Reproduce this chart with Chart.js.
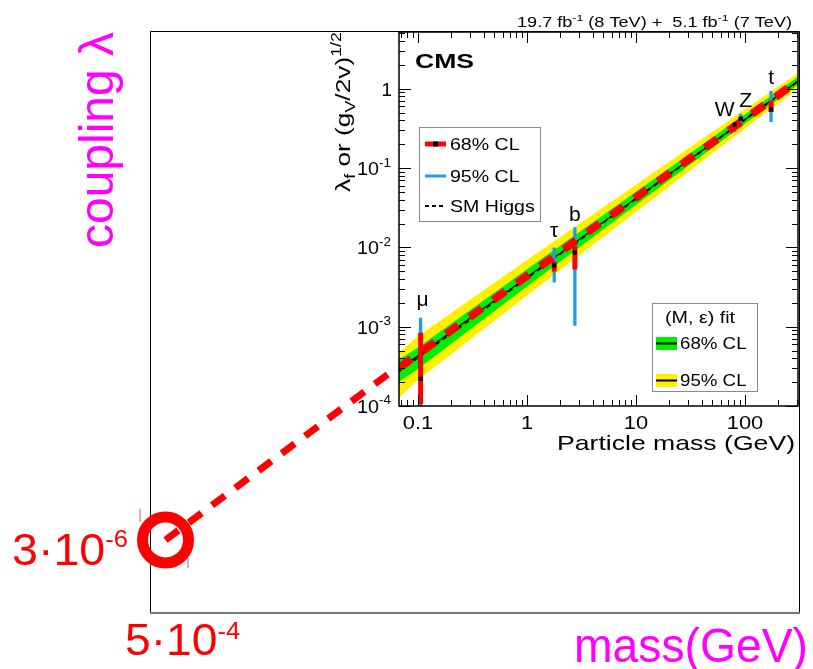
<!DOCTYPE html>
<html>
<head>
<meta charset="utf-8">
<script src="https://cdn.jsdelivr.net/npm/chart.js@4.4.1/dist/chart.umd.min.js"></script>
<style>
  html, body { margin: 0; padding: 0; background: #fff; }
  #wrap { position: relative; width: 813px; height: 669px; }
  #wrap canvas { position: absolute; left: 0; top: 0; }
</style>
</head>
<body>
<div id="wrap">
  <canvas id="outer" width="813" height="669"></canvas>
  <canvas id="inset" width="813" height="669"></canvas>
</div>
<script>
// (M, eps) fit bands
const bandMass = [0.067, 0.1, 1, 10, 100, 306];
const band95Hi = [4.69e-4, 7.56e-4, 6.93e-3, 6.18e-2, 0.550, 1.571];
const band95Lo = [1.26e-4, 2.12e-4, 2.47e-3, 2.80e-2, 0.316, 1.015];
const band68Hi = [3.82e-4, 5.47e-4, 5.31e-3, 5.04e-2, 0.477, 1.419];
const band68Lo = [2.01e-4, 2.93e-4, 3.22e-3, 3.43e-2, 0.365, 1.124];
const fitCentre = [2.9e-4, 4.3e-4, 4.2e-3, 4.15e-2, 0.41, 1.25];
const smHiggs = [2.75e-4, 4.1e-4, 4.1e-3, 4.1e-2, 0.41, 1.24];

// measured couplings
const particles = ['μ', 'τ', 'b', 'W', 'Z', 't'];
const particleMass = [0.1057, 1.777, 2.75, 80.4, 91.2, 173.2];
const coupling = [2.2e-4, 5.9e-3, 8.6e-3, 0.353, 0.42, 0.55];
const cl68Lo = [1.05e-4, 4.97e-3, 5.27e-3, 0.34, 0.41, 0.51];
const cl68Hi = [8.4e-4, 6.65e-3, 1.03e-2, 0.365, 0.435, 0.71];
const cl95Lo = [2e-5, 3.6e-3, 1.03e-3, 0.286, 0.36, 0.38];
const cl95Hi = [1.3e-3, 1.0e-2, 1.79e-2, 0.382, 0.483, 0.935];

// red extrapolation drawn over the plot
const extrapMass = [5e-4, 0.067, 306];
const extrapCoupling = [3e-6, 3.03e-4, 1.26];
const markTickMass = [2.92e-4, 2.92e-4, null, 8.05e-4, 8.05e-4];
const markTickCoupling = [6.9e-6, 4.85e-6, null, 1.85e-6, 1.42e-6];

// axes
const insetXRange = [0.067, 306];
const insetYRange = [1e-4, 5.2];
const outerXRange = [3.6e-4, 330];
const outerYRange = [4.37e-7, 2.45];
const insetXTicks = [0.1, 1, 10, 100];
const insetXLabels = ['0.1', '1', '10', '100'];
const insetYTicks = [1e-4, 1e-3, 1e-2, 1e-1, 1];
const insetYLabels = [['10', '-4'], ['10', '-3'], ['10', '-2'], ['10', '-1'], ['1', '']];

const FONT = '"Liberation Sans", Arial, Helvetica, sans-serif';
const RED = '#ff0000';
const MAGENTA = '#ff00ff';
const BLUE = '#1f9cf0';
const GREEN = '#00ee00';
const YELLOW = '#fff000';

const pts = (xs, ys) => xs.map((x, i) => ({ x: x, y: ys[i] }));

// draw text made of runs: [text, 0 normal | 1 sup | -1 sub]
function drawRuns(ctx, runs, x, y, size, o = {}) {
  const weight = o.bold ? 'bold ' : '';
  const supScale = o.supScale || 0.68;
  const parts = runs.map(r => {
    const kind = r[1] || 0;
    const s = kind ? size * supScale : size;
    ctx.font = weight + s + 'px ' + FONT;
    return { t: r[0], s: s, kind: kind, w: ctx.measureText(r[0]).width };
  });
  const total = parts.reduce((a, p) => a + p.w, 0);
  const k = o.width ? o.width / total : (o.scale || 1);
  const align = o.align || 'left';
  const start = align === 'right' ? -total * k : align === 'center' ? -total * k / 2 : 0;
  ctx.save();
  ctx.translate(x, y);
  if (o.rotate) ctx.rotate(o.rotate);
  ctx.translate(start, 0);
  ctx.scale(k, 1);
  ctx.fillStyle = o.color || '#000';
  ctx.textAlign = 'left';
  ctx.textBaseline = 'alphabetic';
  let cx = 0;
  parts.forEach(p => {
    ctx.font = weight + p.s + 'px ' + FONT;
    const dy = p.kind > 0 ? -size * (o.supRise || 0.42) : p.kind < 0 ? size * 0.24 : 0;
    ctx.fillText(p.t, cx, dy);
    cx += p.w;
  });
  ctx.restore();
}

function minorTicks(range) {
  const out = [];
  for (let e = -5; e <= 3; e++) {
    for (let m = 2; m <= 9; m++) {
      const v = m * Math.pow(10, e);
      if (v > range[0] && v < range[1]) out.push(v);
    }
  }
  return out;
}

// ---------- outer chart ----------
const outerDecor = {
  id: 'outerDecor',
  beforeDatasetsDraw(chart) {
    const { ctx, chartArea: a } = chart;
    ctx.save();
    ctx.lineWidth = 1;
    ctx.strokeStyle = '#000';
    ctx.beginPath();
    ctx.moveTo(a.left + 0.5, a.bottom);
    ctx.lineTo(a.left + 0.5, a.top + 0.5);
    ctx.lineTo(a.right + 0.5, a.top + 0.5);
    ctx.lineTo(a.right + 0.5, a.bottom);
    ctx.stroke();
    ctx.strokeStyle = '#777';
    ctx.lineWidth = 2;
    ctx.beginPath();
    ctx.moveTo(a.left, a.bottom + 1);
    ctx.lineTo(a.right + 1, a.bottom + 1);
    ctx.stroke();
    ctx.restore();
  },
  afterDraw(chart) {
    const { ctx, chartArea: a, scales: { x, y } } = chart;
    const py = y.getPixelForValue(extrapCoupling[0]);
    const px = x.getPixelForValue(extrapMass[0]);
    drawRuns(ctx, [['3·10'], ['-6', 1]], a.left - 22, py + 25, 44,
      { align: 'right', width: 116, color: RED, supScale: 0.55, supRise: 0.4 });
    drawRuns(ctx, [['5·10'], ['-4', 1]], px + 17, a.bottom + 43, 44,
      { align: 'center', width: 115, color: RED, supScale: 0.55, supRise: 0.36 });
    drawRuns(ctx, [['mass(GeV)']], 808, 662, 48, { align: 'right', width: 234, color: MAGENTA });
    drawRuns(ctx, [['coupling λ']], 113, 140, 48,
      { align: 'center', width: 216, color: MAGENTA, rotate: -Math.PI / 2 });
  }
};

new Chart(document.getElementById('outer'), {
  type: 'line',
  data: {
    datasets: [
      {
        data: pts(extrapMass.slice(0, 2), extrapCoupling.slice(0, 2)),
        borderColor: RED, borderWidth: 7, borderDash: [16, 13],
        pointRadius: 0, fill: false, tension: 0
      },
      {
        data: pts(extrapMass.slice(0, 1), extrapCoupling.slice(0, 1)),
        showLine: false, pointRadius: 23, pointBorderWidth: 11,
        pointBorderColor: RED, pointBackgroundColor: 'rgba(0,0,0,0)', clip: false
      },
      {
        data: pts(markTickMass, markTickCoupling),
        borderColor: '#ff8a8a', borderWidth: 1.5, pointRadius: 0, clip: false
      }
    ]
  },
  options: {
    animation: false, responsive: false, devicePixelRatio: 1,
    layout: { autoPadding: false, padding: { left: 150, top: 31, right: 14, bottom: 57 } },
    scales: {
      x: { type: 'logarithmic', min: outerXRange[0], max: outerXRange[1], display: false },
      y: { type: 'logarithmic', min: outerYRange[0], max: outerYRange[1], display: false }
    },
    plugins: { legend: { display: false }, tooltip: { enabled: false } }
  },
  plugins: [outerDecor]
});

// ---------- inset chart ----------
function barPoints(lo, hi) {
  const out = [];
  particleMass.forEach((m, i) => {
    out.push({ x: m, y: lo[i] }, { x: m, y: hi[i] }, { x: m, y: null });
  });
  return out;
}

const insetDecor = {
  id: 'insetDecor',
  afterDraw(chart) {
    const { ctx, chartArea: a, scales: { x, y } } = chart;
    ctx.save();
    // ticks on all four sides, pointing inwards
    ctx.strokeStyle = '#000';
    ctx.lineWidth = 1;
    ctx.beginPath();
    const xt = (v, len) => {
      const p = Math.round(x.getPixelForValue(v)) + 0.5;
      ctx.moveTo(p, a.bottom); ctx.lineTo(p, a.bottom - len);
      ctx.moveTo(p, a.top); ctx.lineTo(p, a.top + len);
    };
    const yt = (v, len) => {
      const p = Math.round(y.getPixelForValue(v)) + 0.5;
      ctx.moveTo(a.left, p); ctx.lineTo(a.left + len, p);
      ctx.moveTo(a.right, p); ctx.lineTo(a.right - len, p);
    };
    insetXTicks.forEach(v => xt(v, 11));
    minorTicks(insetXRange).forEach(v => xt(v, 6));
    insetYTicks.forEach(v => yt(v, 12));
    minorTicks(insetYRange).forEach(v => yt(v, 6));
    ctx.stroke();
    ctx.lineWidth = 1.5;
    ctx.strokeRect(a.left, a.top, a.right - a.left, a.bottom - a.top);
    ctx.restore();

    // tick labels
    insetXTicks.forEach((v, i) => {
      drawRuns(ctx, [[insetXLabels[i]]], x.getPixelForValue(v), a.bottom + 23, 19,
        { align: 'center', scale: 1.15 });
    });
    insetYTicks.forEach((v, i) => {
      const p = y.getPixelForValue(v);
      const l = insetYLabels[i];
      if (l[1]) drawRuns(ctx, [[l[0]], [l[1], 1]], a.left - 42, p + 7, 19, { supScale: 0.68, supRise: 0.45, scale: 1.04 });
      else drawRuns(ctx, [[l[0]]], a.left - 7, p + 7, 19, { align: 'right' });
    });

    // axis titles
    drawRuns(ctx, [['Particle mass (GeV)']], a.right - 3, a.bottom + 44, 21, { align: 'right', width: 238 });
    drawRuns(ctx, [['λ'], ['f', -1], [' or (g'], ['V', -1], ['/2v)'], ['1/2', 1]], a.left - 49, 112, 21,
      { align: 'center', width: 160, rotate: -Math.PI / 2 });

    // header texts
    drawRuns(ctx, [['19.7 fb'], ['-1', 1], [' (8 TeV) +  5.1 fb'], ['-1', 1], [' (7 TeV)']], 792, 27, 14,
      { align: 'right', width: 275 });
    drawRuns(ctx, [['CMS']], a.left + 16, 68, 21, { bold: true, width: 59 });

    // particle labels
    const shift = [[2, -12], [0, -10], [0, -6], [-10, -6], [5, -7], [0, -7]];
    particles.forEach((name, i) => {
      drawRuns(ctx, [[name]], x.getPixelForValue(particleMass[i]) + shift[i][0],
        y.getPixelForValue(cl95Hi[i]) + shift[i][1], 21, { align: 'center' });
    });

    // legend: measurements
    ctx.save();
    ctx.fillStyle = '#fff';
    ctx.strokeStyle = '#8a8a8a';
    ctx.lineWidth = 1;
    ctx.fillRect(419.5, 127.5, 121, 94);
    ctx.strokeRect(419.5, 127.5, 121, 94);
    ctx.lineCap = 'butt';
    ctx.strokeStyle = RED; ctx.lineWidth = 5;
    ctx.beginPath(); ctx.moveTo(425, 144); ctx.lineTo(446, 144); ctx.stroke();
    ctx.fillStyle = '#000'; ctx.fillRect(433, 141.5, 5, 5);
    ctx.strokeStyle = BLUE; ctx.lineWidth = 3;
    ctx.beginPath(); ctx.moveTo(425, 176); ctx.lineTo(446, 176); ctx.stroke();
    ctx.strokeStyle = '#000'; ctx.lineWidth = 2; ctx.setLineDash([4, 3]);
    ctx.beginPath(); ctx.moveTo(425, 206); ctx.lineTo(446, 206); ctx.stroke();
    ctx.setLineDash([]);
    ctx.restore();
    drawRuns(ctx, [['68% CL']], 450, 150, 17, { scale: 1.15 });
    drawRuns(ctx, [['95% CL']], 450, 182, 17, { scale: 1.15 });
    drawRuns(ctx, [['SM Higgs']], 450, 212, 17, { scale: 1.15 });

    // legend: fit
    ctx.save();
    ctx.fillStyle = '#fff';
    ctx.strokeStyle = '#8a8a8a';
    ctx.lineWidth = 1;
    ctx.fillRect(652.5, 303.5, 105, 88);
    ctx.strokeRect(652.5, 303.5, 105, 88);
    ctx.fillStyle = GREEN; ctx.fillRect(656, 337, 21, 13);
    ctx.fillStyle = YELLOW; ctx.fillRect(656, 374, 21, 13);
    ctx.strokeStyle = '#000'; ctx.lineWidth = 2;
    ctx.beginPath();
    ctx.moveTo(656, 343.5); ctx.lineTo(677, 343.5);
    ctx.moveTo(656, 380.5); ctx.lineTo(677, 380.5);
    ctx.stroke();
    ctx.restore();
    drawRuns(ctx, [['(M, ε) fit']], 665, 323, 17, { width: 70 });
    drawRuns(ctx, [['68% CL']], 680, 349, 17, { scale: 1.1 });
    drawRuns(ctx, [['95% CL']], 680, 386, 17, { scale: 1.1 });
  }
};

new Chart(document.getElementById('inset'), {
  type: 'line',
  data: {
    datasets: [
      { data: pts(bandMass, band95Hi), borderWidth: 0, pointRadius: 0, backgroundColor: YELLOW, fill: '+1', order: 10 },
      { data: pts(bandMass, band95Lo), borderWidth: 0, pointRadius: 0, fill: false, order: 10 },
      { data: pts(bandMass, band68Hi), borderWidth: 0, pointRadius: 0, backgroundColor: GREEN, fill: '+1', order: 9 },
      { data: pts(bandMass, band68Lo), borderWidth: 0, pointRadius: 0, fill: false, order: 9 },
      { data: pts(bandMass, fitCentre), borderColor: '#000', borderWidth: 1.2, pointRadius: 0, order: 8 },
      { data: pts(bandMass, smHiggs), borderColor: '#000', borderWidth: 2, borderDash: [5, 4], pointRadius: 0, order: 7 },
      { data: barPoints(cl95Lo, cl95Hi), borderColor: BLUE, borderWidth: 3.3, pointRadius: 0, order: 6 },
      { data: barPoints(cl68Lo, cl68Hi), borderColor: RED, borderWidth: 5, pointRadius: 0, order: 5 },
      {
        data: pts(extrapMass.slice(1), extrapCoupling.slice(1)),
        borderColor: RED, borderWidth: 8, borderDash: [15, 14], pointRadius: 0, order: 4
      },
      {
        data: pts(particleMass, coupling), showLine: false, pointStyle: 'rect',
        pointRadius: 3, pointBackgroundColor: '#000', pointBorderWidth: 0, order: 3
      }
    ]
  },
  options: {
    animation: false, responsive: false, devicePixelRatio: 1,
    elements: { line: { tension: 0 } },
    layout: { autoPadding: false, padding: { left: 399, top: 32, right: 15, bottom: 263 } },
    scales: {
      x: { type: 'logarithmic', min: insetXRange[0], max: insetXRange[1], display: false },
      y: { type: 'logarithmic', min: insetYRange[0], max: insetYRange[1], display: false }
    },
    plugins: { legend: { display: false }, tooltip: { enabled: false } }
  },
  plugins: [insetDecor]
});
</script>
</body>
</html>
